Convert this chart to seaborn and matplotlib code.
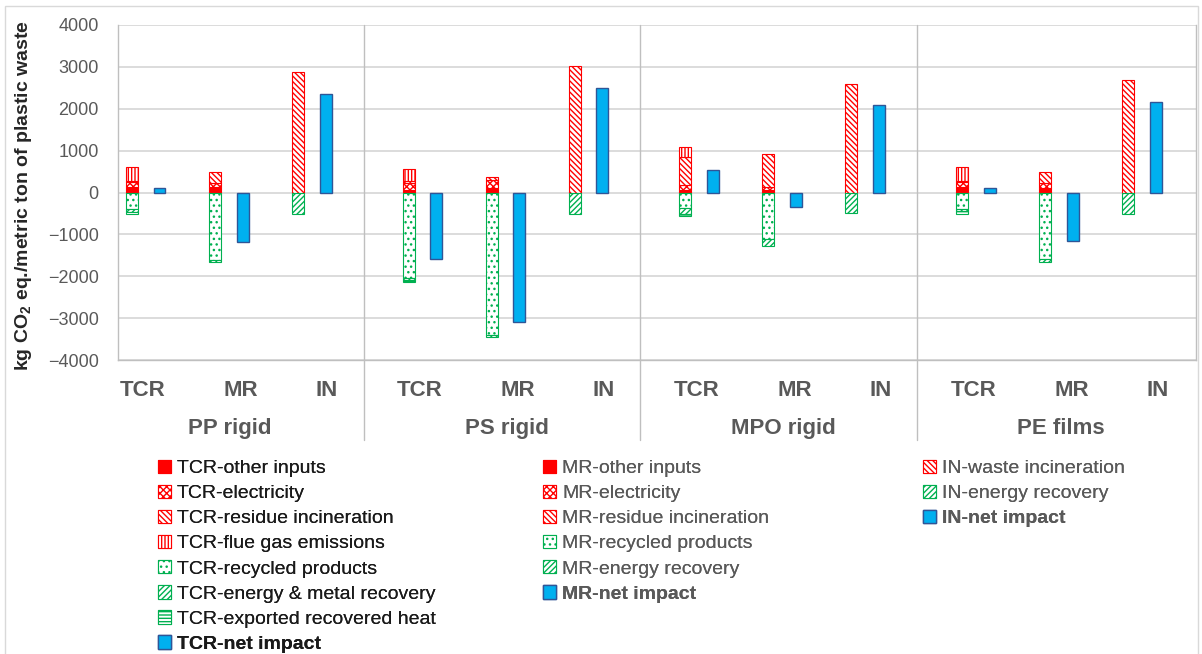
#%% Import
import numpy as np
import matplotlib.pyplot as plt
import matplotlib.patches as mpatches
import matplotlib.transforms as mtransforms
import seaborn as sns

# values, kg CO2 eq. per metric ton, one per plastic
groups = ['PP rigid', 'PS rigid', 'MPO rigid', 'PE films']
methods = ['TCR', 'MR', 'IN']

tcr_other = [120, 60, 60, 130]
tcr_elec = [130, 170, 110, 120]
tcr_residue = [30, 40, 680, 30]
tcr_flue = [340, 290, 240, 330]
tcr_recycled = [-390, -2040, -370, -400]
tcr_energy = [-70, -50, -150, -50]
tcr_heat = [-60, -50, -30, -60]
tcr_net = [100, -1590, 540, 100]

mr_other = [130, 100, 60, 110]
mr_elec = [90, 200, 80, 110]
mr_residue = [280, 60, 790, 270]
mr_recycled = [-1610, -3400, -1100, -1580]
mr_energy = [-60, -50, -170, -70]
mr_net = [-1180, -3090, -340, -1160]

in_waste = [2870, 3010, 2580, 2680]
in_energy = [-525, -525, -485, -525]
in_net = [2350, 2490, 2100, 2150]

RED = '#FF0000'
GREEN = '#00B050'
BLUE = '#00B0F0'
DBLUE = '#2F5597'
GREY = '#595959'

sns.set_theme(style='white')
plt.rcParams['font.family'] = ['Liberation Sans', 'DejaVu Sans']
plt.rcParams['hatch.linewidth'] = 1.0
plt.rcParams['mathtext.fontset'] = 'custom'
plt.rcParams['mathtext.bf'] = 'Liberation Sans:bold'
plt.rcParams['mathtext.rm'] = 'Liberation Sans:bold'

DIAG = '\\' * 6
# (label, values, face, edge, hatch)
stacks = {
    'TCR': [
        ('TCR-other inputs', tcr_other, RED, RED, None),
        ('TCR-electricity', tcr_elec, 'white', RED, 'xxxxx'),
        ('TCR-residue incineration', tcr_residue, 'white', RED, DIAG),
        ('TCR-flue gas emissions', tcr_flue, 'white', RED, '|||||'),
        ('TCR-recycled products', tcr_recycled, 'white', GREEN, '...'),
        ('TCR-energy & metal recovery', tcr_energy, 'white', GREEN, '//////'),
        ('TCR-exported recovered heat', tcr_heat, 'white', GREEN, '-----'),
    ],
    'MR': [
        ('MR-other inputs', mr_other, RED, RED, None),
        ('MR-electricity', mr_elec, 'white', RED, 'xxxxx'),
        ('MR-residue incineration', mr_residue, 'white', RED, DIAG),
        ('MR-recycled products', mr_recycled, 'white', GREEN, '...'),
        ('MR-energy recovery', mr_energy, 'white', GREEN, '//////'),
    ],
    'IN': [
        ('IN-waste incineration', in_waste, 'white', RED, DIAG),
        ('IN-energy recovery', in_energy, 'white', GREEN, '//////'),
    ],
}
nets = {'TCR': tcr_net, 'MR': mr_net, 'IN': in_net}

fig = plt.figure(figsize=(12.02, 6.54), dpi=100)
ax = fig.add_axes([0.0982, 0.4495, 0.8968, 0.5123])

W = 0.43
gx = np.arange(len(groups)) * 10
for m, meth in enumerate(methods):
    x = gx + 3 * m
    pos = np.zeros(len(groups))
    neg = np.zeros(len(groups))
    for lab, vals, fc, ec, ht in stacks[meth]:
        v = np.array(vals, dtype=float)
        base = pos if v[0] >= 0 else neg
        ax.bar(x, v, W, bottom=base, color=fc, edgecolor=ec, hatch=ht,
               linewidth=0.8, label=lab, zorder=3)
        if v[0] >= 0:
            pos = pos + v
        else:
            neg = neg + v
    ax.bar(x + 1, nets[meth], W, color=BLUE, edgecolor=DBLUE, linewidth=1,
           label=meth + '-net impact', zorder=3)

ax.set_xlim(-0.5, 38.45)
ax.set_ylim(-4000, 4000)
ax.set_yticks(np.arange(-4000, 4001, 1000))
ax.set_xticks([])
ax.yaxis.grid(True, color='#D9D9D9', lw=1.3, zorder=0)
ax.tick_params(axis='y', length=0, pad=14, labelsize=13, labelcolor=GREY)
sns.despine(ax=ax, top=True, right=False)
for s in ['left', 'right', 'bottom']:
    ax.spines[s].set_color('#BFBFBF')
    ax.spines[s].set_linewidth(1)

ax.set_ylabel('kg CO$_\\mathbf{2}$ eq./metric ton of plastic waste',
              fontsize=14, fontweight='bold', color='#262626')
ax.yaxis.set_label_coords(-0.078, 0.49)

# category and group labels under the axis
trans = mtransforms.blended_transform_factory(ax.transData, ax.transAxes)
lab_off = [0.4, 3.95, 7.05]
for g in range(len(groups)):
    for m, meth in enumerate(methods):
        ax.text(gx[g] + lab_off[m], -0.09, meth, transform=trans, ha='center',
                va='center', fontsize=16, fontweight='bold', color=GREY)
    ax.text(gx[g] + 3.55, -0.203, groups[g], transform=trans, ha='center',
            va='center', fontsize=16, fontweight='bold', color=GREY)
for g in range(len(groups) - 1):
    ax.plot([gx[g] + 8.37] * 2, [1, -0.24], transform=trans, color='#BFBFBF',
            lw=1, clip_on=False)

# legend, one column per method
handles, labels = ax.get_legend_handles_labels()
hmap = dict(zip(labels, handles))
cols = [(0.1314, 'TCR', '#1A1A1A'), (0.4517, 'MR', GREY), (0.768, 'IN', GREY)]
for xa, meth, tc in cols:
    labs = [s[0] for s in stacks[meth]] + [meth + '-net impact']
    leg = fig.legend([hmap[l] for l in labs], labs, loc='upper left',
                     bbox_to_anchor=(xa, 0.297), frameon=False, fontsize=14,
                     handlelength=0.68, handleheight=0.68, handletextpad=0.3,
                     labelspacing=0.39, borderpad=0, borderaxespad=0)
    for t in leg.get_texts():
        t.set_color(tc)
        if t.get_text().endswith('net impact'):
            t.set_fontweight('bold')
    fig.add_artist(leg)

fig.patches.append(mpatches.Rectangle((0.004, -0.1), 0.993, 1.091,
                                      transform=fig.transFigure, fill=False,
                                      ec='#D9D9D9', lw=1))

fig.savefig('out.png', dpi=100)
